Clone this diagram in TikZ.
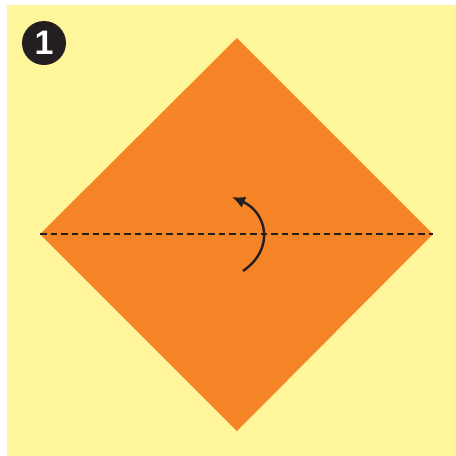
\documentclass[tikz,border=0pt]{standalone}
\usepackage{fontspec}
\setsansfont{Liberation Sans}
\usetikzlibrary{arrows.meta}
\definecolor{bgyellow}{HTML}{FFF59A}
\definecolor{paperorange}{HTML}{F58426}
\definecolor{inkdark}{HTML}{231F20}
\tikzset{
  foldline/.style={draw=inkdark, line width=2.5pt, dash pattern=on 6.5pt off 4pt},
  turnarrow/.style={draw=inkdark, line width=2.4pt, -{Latex[length=13pt,width=12pt]}},
  badge/.style={circle, fill=inkdark, minimum size=44pt, inner sep=0pt, text=white, font=\sffamily\bfseries\fontsize{34}{34}\selectfont}
}
\begin{document}
\begin{tikzpicture}[x=1pt,y=-1pt]
\useasboundingbox (0,0) rectangle (456,456);
\fill[white] (0,0) rectangle (456,456);
\fill[bgyellow] (7,5) rectangle (456,456);
\coordinate (T) at (237,38);
\coordinate (R) at (433,234);
\coordinate (B) at (237,431);
\coordinate (L) at (40,234);
\fill[paperorange] (T) -- (R) -- (B) -- (L) -- cycle;
\draw[foldline] (L) -- (R);
\coordinate (a0) at (243,271);
\coordinate (a1) at (232,197);
\draw[turnarrow] (a0) .. controls (276,248) and (266,212) .. (a1);
\node[badge] (num) at (44,43) {1};
\end{tikzpicture}
\end{document}
